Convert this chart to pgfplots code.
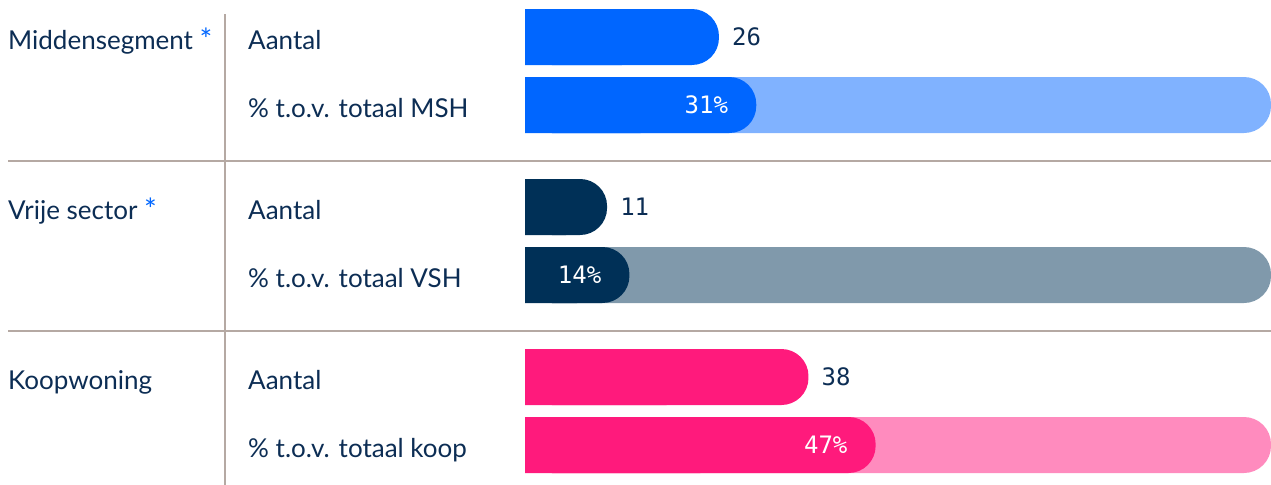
\documentclass[border=0pt]{standalone}
\usepackage{pgfplots}
\usepackage{pgfplotstable}
\pgfplotsset{compat=1.18}
\usepackage{fontspec}
\setmainfont{Lato}
\newfontfamily\numfont{DejaVu Sans Mono}
\definecolor{txt}{HTML}{0C2D54}
\definecolor{msdark}{HTML}{0066FF}
\definecolor{mslight}{HTML}{80B2FF}
\definecolor{vsdark}{HTML}{003057}
\definecolor{vslight}{HTML}{8099AB}
\definecolor{kpdark}{HTML}{FF1A7C}
\definecolor{kplight}{HTML}{FF8BBE}
\definecolor{sep}{HTML}{B5A9A3}

\pgfplotstableread{
v y
26 -37
31 -105
}\msdata
\pgfplotstableread{
v y
11 -207
14 -275
}\vsdata
\pgfplotstableread{
v y
38 -377
47 -445
}\kpdata

\pgfplotsset{
  barbase/.style={xbar, bar shift=0pt, bar width=56, draw=none},
  rnd/.style={rounded corners=27bp},
  countlbl/.style={point meta=x, nodes near coords={\numfont\pgfmathprintnumber[assume math mode=true]{\pgfplotspointmeta}},
    every node near coord/.style={anchor=west, inner sep=0pt, xshift=13bp, text=txt, font=\fontsize{24bp}{27bp}\selectfont}},
  pctlbl/.style={point meta=x, nodes near coords={\numfont\pgfmathprintnumber[assume math mode=true]{\pgfplotspointmeta}\%},
    every node near coord/.style={anchor=east, inner sep=0pt, xshift=-28bp, text=white, font=\fontsize{24bp}{27bp}\selectfont}},
}

\begin{document}
\begin{tikzpicture}
\useasboundingbox (0,0) rectangle (1271bp,-485bp);
\begin{axis}[
  at={(525bp,0bp)}, anchor=north west,
  scale only axis, width=746bp, height=485bp,
  xmin=0, xmax=100, ymin=-485, ymax=0,
  hide axis, clip=false,
]
% Middensegment
\addplot[barbase, rnd, fill=mslight] coordinates {(100,-105)};
\addplot[barbase, fill=msdark] table[x expr=\thisrow{v}/2, y=y] {\msdata};
\addplot[barbase, rnd, fill=msdark, countlbl] table[x=v, y=y, skip coords between index={1}{2}] {\msdata};
\addplot[barbase, rnd, fill=msdark, pctlbl] table[x=v, y=y, skip coords between index={0}{1}] {\msdata};
% Vrije sector
\addplot[barbase, rnd, fill=vslight] coordinates {(100,-275)};
\addplot[barbase, fill=vsdark] table[x expr=\thisrow{v}/2, y=y] {\vsdata};
\addplot[barbase, rnd, fill=vsdark, countlbl] table[x=v, y=y, skip coords between index={1}{2}] {\vsdata};
\addplot[barbase, rnd, fill=vsdark, pctlbl] table[x=v, y=y, skip coords between index={0}{1}] {\vsdata};
% Koopwoning
\addplot[barbase, rnd, fill=kplight] coordinates {(100,-445)};
\addplot[barbase, fill=kpdark] table[x expr=\thisrow{v}/2, y=y] {\kpdata};
\addplot[barbase, rnd, fill=kpdark, countlbl] table[x=v, y=y, skip coords between index={1}{2}] {\kpdata};
\addplot[barbase, rnd, fill=kpdark, pctlbl] table[x=v, y=y, skip coords between index={0}{1}] {\kpdata};
\end{axis}
% separators
\draw[sep, line width=1.5bp] (8bp,-161bp) -- (1271bp,-161bp);
\draw[sep, line width=1.5bp] (8bp,-331bp) -- (1271bp,-331bp);
\draw[sep, line width=1.5bp] (225bp,-14bp) -- (225bp,-485bp);
% labels
\begin{scope}[every node/.style={inner sep=0pt, anchor=base west, text=txt, font=\fontsize{26bp}{29bp}\selectfont}]
\node at (8bp,-49bp) {Middensegment \textcolor{msdark}{\raisebox{-1bp}{\fontsize{30bp}{30bp}\selectfont *}}};
\node at (248bp,-49bp) {Aantal};
\node at (248bp,-117bp) {\% t.o.v. totaal MSH};
\node at (8bp,-219bp) {Vrije sector \textcolor{msdark}{\raisebox{-1bp}{\fontsize{30bp}{30bp}\selectfont *}}};
\node at (248bp,-219bp) {Aantal};
\node at (248bp,-287bp) {\% t.o.v. totaal VSH};
\node at (8bp,-389bp) {Koopwoning};
\node at (248bp,-389bp) {Aantal};
\node at (248bp,-457bp) {\% t.o.v. totaal koop};
\end{scope}
\end{tikzpicture}
\end{document}
